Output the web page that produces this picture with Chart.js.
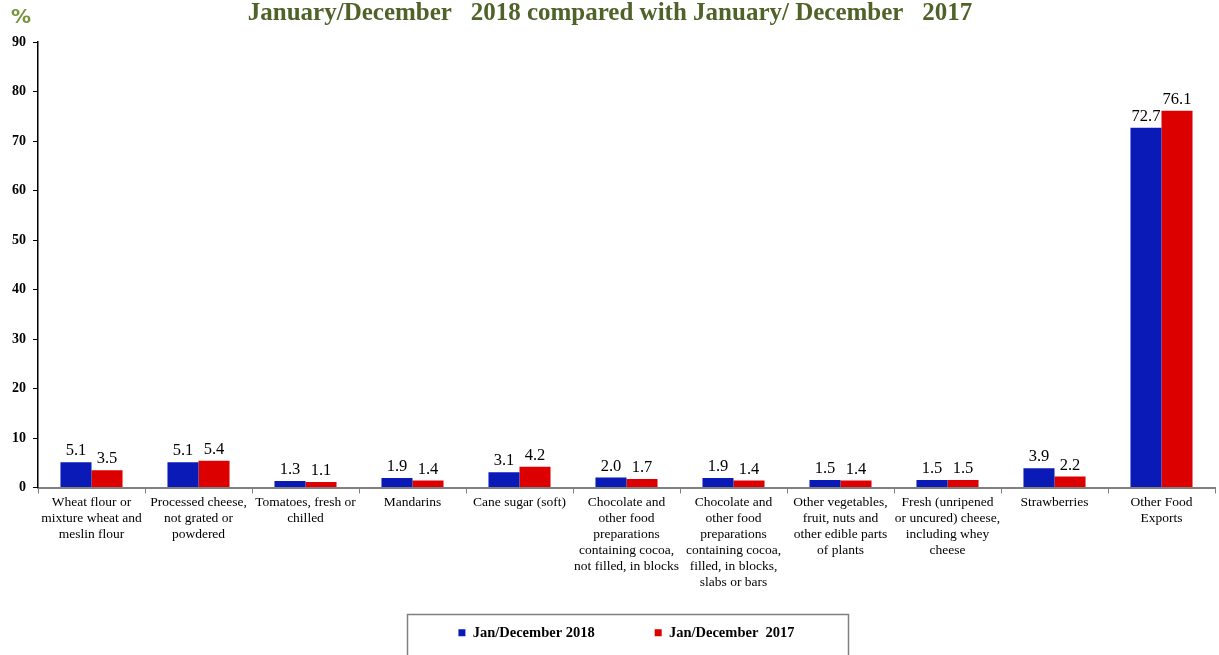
<!DOCTYPE html>
<html>
<head>
<meta charset="utf-8">
<script src="https://cdn.jsdelivr.net/npm/chart.js@4.4.1/dist/chart.umd.min.js"></script>
<style>
  html, body { margin: 0; padding: 0; background: #fff; }
  #wrap { position: relative; width: 1219px; height: 655px; }
</style>
</head>
<body>
<div id="wrap"><canvas id="chart"></canvas></div>
<script>
const categories = [
  ["Wheat flour or", "mixture wheat and", "meslin flour"],
  ["Processed cheese,", "not grated or", "powdered"],
  ["Tomatoes, fresh or", "chilled"],
  ["Mandarins"],
  ["Cane sugar (soft)"],
  ["Chocolate and", "other food", "preparations", "containing cocoa,", "not filled, in blocks"],
  ["Chocolate and", "other food", "preparations", "containing cocoa,", "filled, in blocks,", "slabs or bars"],
  ["Other vegetables,", "fruit, nuts and", "other edible parts", "of plants"],
  ["Fresh (unripened", "or uncured) cheese,", "including whey", "cheese"],
  ["Strawberries"],
  ["Other Food", "Exports"],
];
const share2018 = [5.1, 5.1, 1.3, 1.9, 3.1, 2.0, 1.9, 1.5, 1.5, 3.9, 72.7];
const share2017 = [3.5, 5.4, 1.1, 1.4, 4.2, 1.7, 1.4, 1.4, 1.5, 2.2, 76.1];
const seriesNames = ["Jan/December 2018", "Jan/December  2017"];
const titleText = "January/December   2018 compared with January/ December   2017";

const serif = "'Liberation Serif', 'Times New Roman', serif";
const axisGray = "#808080";

// value labels above each bar
const valueLabels = {
  id: "valueLabels",
  afterDatasetsDraw(chart) {
    const ctx = chart.ctx;
    ctx.save();
    ctx.font = "16.5px " + serif;
    ctx.fillStyle = "#000";
    ctx.textAlign = "center";
    ctx.textBaseline = "bottom";
    chart.data.datasets.forEach((ds, di) => {
      chart.getDatasetMeta(di).data.forEach((bar, i) => {
        ctx.fillText(ds.data[i].toFixed(1), bar.x, bar.y - 3);
      });
    });
    ctx.restore();
  },
};

// the x labels hang down into the empty top of the legend band,
// so widen the x scale's clip box after layout
const labelRoom = {
  id: "labelRoom",
  afterLayout(chart) {
    const x = chart.scales.x;
    x.bottom = x.top + 115;
  },
};

// "%" unit mark and a frame around the legend
const extras = {
  id: "extras",
  afterDraw(chart) {
    const ctx = chart.ctx;
    ctx.save();
    ctx.font = "bold 20px 'DejaVu Sans', sans-serif";
    ctx.fillStyle = "#77933C";
    ctx.textAlign = "center";
    ctx.textBaseline = "middle";
    ctx.fillText("%", 21, 18);
    ctx.strokeStyle = "#808080";
    ctx.lineWidth = 1.5;
    const mid = (chart.chartArea.left + chart.chartArea.right) / 2;
    ctx.strokeRect(Math.round(mid - 220) + 0.5, 614.5, 441, 44);
    ctx.restore();
  },
};

new Chart(document.getElementById("chart").getContext("2d"), {
  type: "bar",
  data: {
    labels: categories,
    datasets: [
      { label: seriesNames[0], data: share2018, backgroundColor: "#0A1AB6", borderWidth: 0 },
      { label: seriesNames[1], data: share2017, backgroundColor: "#DD0000", borderWidth: 0 },
    ],
  },
  options: {
    responsive: true,
    maintainAspectRatio: false,
    animation: false,
    layout: { padding: { top: 0, right: 4, bottom: 5, left: 5 } },
    datasets: { bar: { categoryPercentage: 0.58, barPercentage: 1 } },
    plugins: {
      title: {
        display: true,
        text: titleText,
        color: "#4F6228",
        font: { family: serif, size: 25, weight: "bold" },
        padding: { top: -1, bottom: 13 },
      },
      legend: {
        position: "bottom",
        fullSize: false,
        labels: {
          boxWidth: 7,
          boxHeight: 7,
          padding: 60,
          color: "#000",
          font: { family: serif, size: 14.5, weight: "bold" },
        },
      },
      tooltip: { enabled: false },
    },
    scales: {
      x: {
        grid: { display: true, drawOnChartArea: false, color: axisGray, tickLength: 6 },
        border: { color: axisGray, width: 2 },
        ticks: {
          color: "#000",
          font: { family: serif, size: 13.5, lineHeight: 1.19 },
          maxRotation: 0,
          autoSkip: false,
          padding: 1,
        },
        afterFit: (scale) => { scale.height = 78; },
      },
      y: {
        min: 0,
        max: 90,
        grid: { display: true, drawOnChartArea: false, color: "#000", tickLength: 5 },
        border: { color: "#000", width: 1.5 },
        ticks: {
          stepSize: 10,
          color: "#000",
          font: { family: serif, size: 14, weight: "bold" },
          padding: 7,
        },
      },
    },
  },
  plugins: [valueLabels, labelRoom, extras],
});
</script>
</body>
</html>
